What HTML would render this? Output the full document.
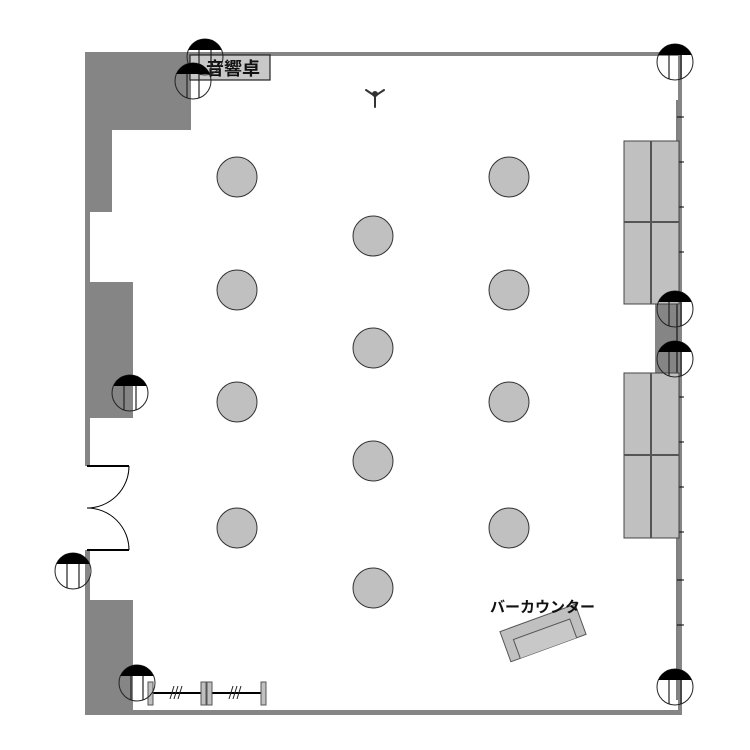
<!DOCTYPE html>
<html><head><meta charset="utf-8"><style>html,body{margin:0;padding:0;background:#fff}svg{display:block}</style></head>
<body>
<svg width="750" height="750" viewBox="0 0 750 750" xmlns="http://www.w3.org/2000/svg">
<defs>
<g id="lt">
<circle cx="0" cy="0" r="18" fill="none" stroke="#222" stroke-width="1"/>
<path d="M-16.6,-7 A18,18 0 0 1 16.6,-7 Z" fill="#000"/>
<line x1="-6" y1="-7" x2="-6" y2="17" stroke="#222" stroke-width="1.2"/>
<line x1="6" y1="-7" x2="6" y2="17" stroke="#222" stroke-width="1.2"/>
</g>
</defs>
<g fill="#858585">
<rect x="85" y="52" width="595" height="4"/>
<rect x="85" y="52" width="106" height="78"/>
<rect x="85" y="130" width="27" height="82"/>
<rect x="85" y="212" width="5" height="254"/>
<rect x="85" y="282" width="48" height="136"/>
<rect x="85" y="550" width="5" height="165"/>
<rect x="85" y="600" width="48" height="115"/>
<rect x="85" y="710" width="597" height="5"/>
<rect x="678" y="52" width="4" height="663"/>
<rect x="655" y="300" width="25" height="75"/>
</g>
<line x1="677" y1="100" x2="677" y2="700" stroke="#000" stroke-width="1"/>
<g stroke="#000" stroke-width="1">
<line x1="677" y1="117" x2="684" y2="117"/><line x1="677" y1="162" x2="684" y2="162"/><line x1="677" y1="207" x2="684" y2="207"/>
<line x1="677" y1="252" x2="684" y2="252"/><line x1="677" y1="397" x2="684" y2="397"/><line x1="677" y1="442" x2="684" y2="442"/>
<line x1="677" y1="487" x2="684" y2="487"/><line x1="677" y1="532" x2="684" y2="532"/><line x1="677" y1="580" x2="684" y2="580"/><line x1="677" y1="625" x2="684" y2="625"/>
</g>
<g stroke="#000" fill="none">
<path d="M87,466 H129" stroke-width="2"/>
<path d="M87,550 H129" stroke-width="2"/>
<path d="M129,466 A42,42 0 0 1 87,508" stroke-width="1"/>
<path d="M87,508 A42,42 0 0 1 129,550" stroke-width="1"/>
</g>
<rect x="190" y="55" width="80" height="25" fill="#c8c8c8" stroke="#222" stroke-width="1.2"/>
<text x="233" y="75" font-family="'Liberation Sans','Noto Sans CJK JP',sans-serif" font-size="18" font-weight="bold" text-anchor="middle" fill="#111">音響卓</text>
<g stroke="#333" stroke-width="2" fill="none" stroke-linecap="round">
<line x1="366" y1="90" x2="375" y2="96"/>
<line x1="384" y1="90" x2="375" y2="96"/>
<line x1="375" y1="95" x2="375" y2="107"/>
<circle cx="375" cy="94" r="2" fill="#333"/>
</g>
<g fill="#c0c0c0" stroke="#333" stroke-width="1">
<circle cx="237" cy="177" r="20"/><circle cx="509" cy="177" r="20"/><circle cx="373" cy="236" r="20"/>
<circle cx="237" cy="290" r="20"/><circle cx="509" cy="290" r="20"/><circle cx="373" cy="348" r="20"/>
<circle cx="237" cy="402" r="20"/><circle cx="509" cy="402" r="20"/><circle cx="373" cy="461" r="20"/>
<circle cx="237" cy="528" r="20"/><circle cx="509" cy="528" r="20"/><circle cx="373" cy="588" r="20"/>
</g>
<g fill="#c0c0c0" stroke="#444" stroke-width="1">
<rect x="624" y="141" width="55" height="163"/>
<rect x="624" y="373" width="55" height="165"/>
</g>
<g stroke="#555" stroke-width="2">
<line x1="651" y1="141" x2="651" y2="304"/><line x1="624" y1="222" x2="679" y2="222"/>
<line x1="651" y1="373" x2="651" y2="538"/><line x1="624" y1="455" x2="679" y2="455"/>
</g>
<g transform="translate(543,633) rotate(-20)">
<rect x="-40" y="-16" width="80" height="32" fill="#c0c0c0" stroke="#555" stroke-width="1"/>
<path d="M-30,16 V-4 H30 V16" fill="#c8c8c8" stroke="#555" stroke-width="1"/>
</g>
<text x="490" y="612" font-family="'Liberation Sans','Noto Sans CJK JP',sans-serif" font-size="15" font-weight="bold" fill="#111">バーカウンター</text>
<line x1="150" y1="693" x2="264" y2="693" stroke="#000" stroke-width="2"/>
<g fill="#c0c0c0" stroke="#555" stroke-width="1">
<rect x="148" y="682" width="5" height="23"/><rect x="201" y="682" width="5" height="23"/>
<rect x="207" y="682" width="5" height="23"/><rect x="261" y="682" width="5" height="23"/>
</g>
<g stroke="#222" stroke-width="1">
<line x1="170" y1="699" x2="174" y2="686"/><line x1="174" y1="699" x2="178" y2="686"/><line x1="178" y1="699" x2="182" y2="686"/>
<line x1="229" y1="699" x2="233" y2="686"/><line x1="233" y1="699" x2="237" y2="686"/><line x1="237" y1="699" x2="241" y2="686"/>
</g>
<use href="#lt" x="205" y="57"/>
<use href="#lt" x="193" y="81"/>
<use href="#lt" x="675" y="62"/>
<use href="#lt" x="675" y="309"/>
<use href="#lt" x="675" y="359"/>
<use href="#lt" x="130" y="393"/>
<use href="#lt" x="73" y="571"/>
<use href="#lt" x="137" y="683"/>
<use href="#lt" x="675" y="687"/>
</svg>
</body></html>
